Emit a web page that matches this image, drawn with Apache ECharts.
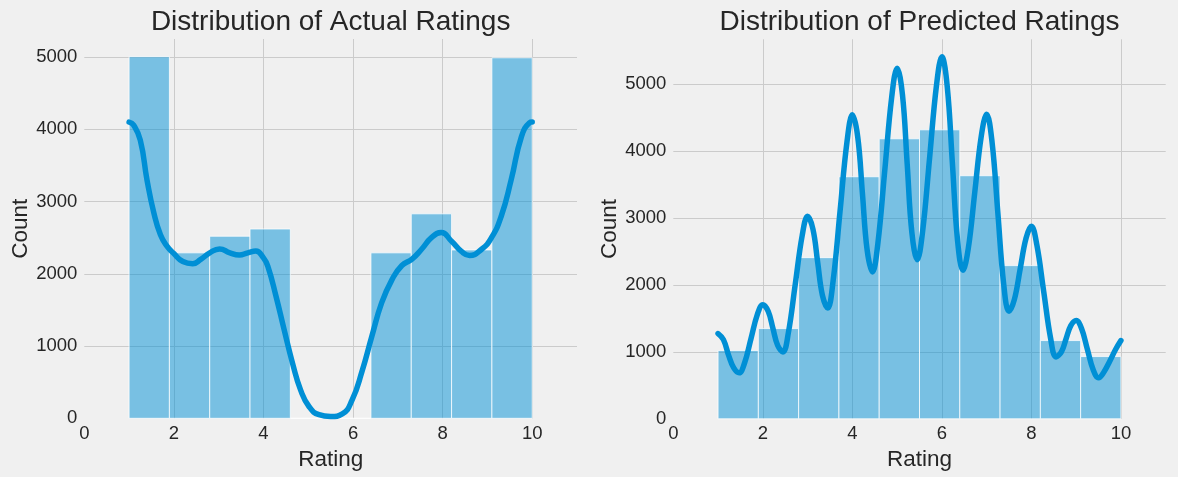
<!DOCTYPE html>
<html>
<head>
<meta charset="utf-8">
<script src="https://cdn.jsdelivr.net/npm/echarts@6/dist/echarts.min.js"></script>
<style>
  html, body { margin: 0; padding: 0; background: #f0f0f0; }
  #chart { width: 1178px; height: 477px; }
</style>
</head>
<body>
<div id="chart"></div>
<script>
// ---- data ----
const titles = ['Distribution of Actual Ratings', 'Distribution of Predicted Ratings'];
const binEdges = [1, 1.9, 2.8, 3.7, 4.6, 5.5, 6.4, 7.3, 8.2, 9.1, 10];
const actualCounts = [5005, 2290, 2520, 2620, 0, 0, 2290, 2830, 2330, 4990];
const predictedCounts = [1020, 1348, 2408, 3617, 4184, 4318, 3632, 2289, 1169, 930];

const actualKdeX = [1.0, 1.1, 1.25, 1.4, 1.55, 1.7, 1.85, 2.0, 2.2, 2.42, 2.6, 2.8, 3.02, 3.25, 3.46, 3.65, 3.83, 4.0, 4.1, 4.28, 4.46, 4.65, 4.83, 5.02, 5.24, 5.5, 5.76, 5.98, 6.2, 6.42, 6.64, 6.87, 7.09, 7.31, 7.53, 7.75, 7.97, 8.2, 8.42, 8.6, 8.87, 9.09, 9.31, 9.53, 9.76, 9.94, 10.0];
const actualKdeY = [4100, 4060, 3850, 3300, 2850, 2540, 2380, 2280, 2170, 2140, 2200, 2290, 2345, 2290, 2260, 2290, 2315, 2220, 2100, 1690, 1230, 760, 390, 160, 50, 25, 60, 255, 650, 1135, 1600, 1920, 2115, 2200, 2340, 2500, 2570, 2450, 2310, 2255, 2340, 2500, 2800, 3300, 3900, 4090, 4100];

const predKdeX = [1.0, 1.12, 1.24, 1.35, 1.47,
  1.59, 1.735, 1.88, 2.0, 2.12, 2.225, 2.33, 2.45,
  2.57, 2.725, 2.88, 3.0, 3.12, 3.225, 3.33, 3.45,
  3.57, 3.725, 3.88, 4.0, 4.12, 4.225, 4.33, 4.45,
  4.57, 4.725, 4.88, 5.0, 5.12, 5.225, 5.33, 5.45,
  5.57, 5.725, 5.88, 6.0, 6.12, 6.235, 6.35, 6.47,
  6.59, 6.735, 6.88, 7.0, 7.12, 7.25, 7.38, 7.5,
  7.62, 7.75, 7.88, 8.0, 8.12, 8.275, 8.43, 8.55,
  8.67, 8.775, 8.88, 9.0, 9.12, 9.25, 9.38, 9.5,
  9.62, 9.75, 9.88, 10.0];
const predKdeY = [1274, 1184, 940, 760, 687,
  830, 1197, 1563, 1706, 1607, 1353, 1099, 1000,
  1284, 2013, 2741, 3025, 2833, 2341, 1849, 1657,
  2061, 3100, 4138, 4542, 4213, 3368, 2523, 2194,
  2620, 3717, 4813, 5239, 4838, 3809, 2779, 2378,
  2802, 3894, 4986, 5410, 4963, 3815, 2666, 2219,
  2546, 3386, 4225, 4552, 4140, 3080, 2019, 1607,
  1785, 2242, 2698, 2876, 2603, 1901, 1198, 925,
  1001, 1197, 1392, 1468, 1348, 1040, 732, 612,
  700, 860, 1035, 1169];

const xTicks = [0, 2, 4, 6, 8, 10];
const yMax = [5250, 5671];

// ---- chart ----
const FONT = "'Liberation Sans', Arial, sans-serif";
const TXT = '#262626';
const grids = [
  { left: 84.3, top: 39, width: 492.7, height: 379.3 },
  { left: 673.3, top: 39.3, width: 492.4, height: 379.5 }
];

function toPairs(xs, ys) { return xs.map((x, i) => [x, ys[i]]); }
function binData(counts) { return counts.map((c, i) => [binEdges[i], binEdges[i + 1], c]); }

function renderBar(params, api) {
  const p0 = api.coord([api.value(0), 0]);
  const p1 = api.coord([api.value(1), api.value(2)]);
  return {
    type: 'rect',
    shape: { x: p0[0], y: p1[1], width: p1[0] - p0[0], height: p0[1] - p1[1] },
    style: { fill: 'rgba(0,143,213,0.5)', stroke: 'rgba(255,255,255,0.75)', lineWidth: 1 }
  };
}

const xAxes = [0, 1].map(i => ({
  gridIndex: i, type: 'value', min: 0, max: 11, interval: 2,
  name: 'Rating', nameLocation: 'middle', nameGap: 28,
  nameTextStyle: { fontFamily: FONT, fontSize: 22.5, color: TXT },
  axisLine: { show: false }, axisTick: { show: false },
  axisLabel: { fontFamily: FONT, fontSize: 18.5, color: TXT, margin: 6,
    showMaxLabel: false,
    formatter: v => (xTicks.indexOf(v) >= 0 ? String(v) : '') },
  splitLine: { show: true, showMinLine: false, showMaxLine: false, lineStyle: { color: '#cbcbcb', width: 1 } }
}));

const yAxes = [0, 1].map(i => ({
  gridIndex: i, type: 'value', min: 0, max: yMax[i], interval: 1000,
  name: 'Count', nameLocation: 'middle', nameGap: 49,
  nameTextStyle: { fontFamily: FONT, fontSize: 22.5, color: TXT },
  axisLine: { show: false }, axisTick: { show: false },
  axisLabel: { fontFamily: FONT, fontSize: 18.5, color: TXT, margin: 7, showMaxLabel: false,
    formatter: v => String(v) },
  splitLine: { show: true, showMinLine: false, showMaxLine: false, lineStyle: { color: '#cbcbcb', width: 1 } }
}));

const option = {
  backgroundColor: '#f0f0f0',
  animation: false,
  title: titles.map((t, i) => ({
    text: t,
    left: grids[i].left + grids[i].width / 2,
    textAlign: 'center',
    top: 8,
    padding: 0,
    textStyle: { fontFamily: FONT, fontSize: 28, fontWeight: 'normal', color: TXT }
  })),
  grid: grids,
  xAxis: xAxes,
  yAxis: yAxes,
  series: [
    { type: 'custom', xAxisIndex: 0, yAxisIndex: 0, renderItem: renderBar, data: binData(actualCounts), z: 2 },
    { type: 'line', xAxisIndex: 0, yAxisIndex: 0, data: toPairs(actualKdeX, actualKdeY), smooth: 0.5,
      symbol: 'none', lineStyle: { color: '#008fd5', width: 5.5, cap: 'round' }, z: 3 },
    { type: 'custom', xAxisIndex: 1, yAxisIndex: 1, renderItem: renderBar, data: binData(predictedCounts), z: 2 },
    { type: 'line', xAxisIndex: 1, yAxisIndex: 1, data: toPairs(predKdeX, predKdeY), smooth: 0.4,
      symbol: 'none', lineStyle: { color: '#008fd5', width: 5.5, cap: 'round' }, z: 3 }
  ]
};

const chart = echarts.init(document.getElementById('chart'), null, { renderer: 'canvas' });
chart.setOption(option);
</script>
</body>
</html>
